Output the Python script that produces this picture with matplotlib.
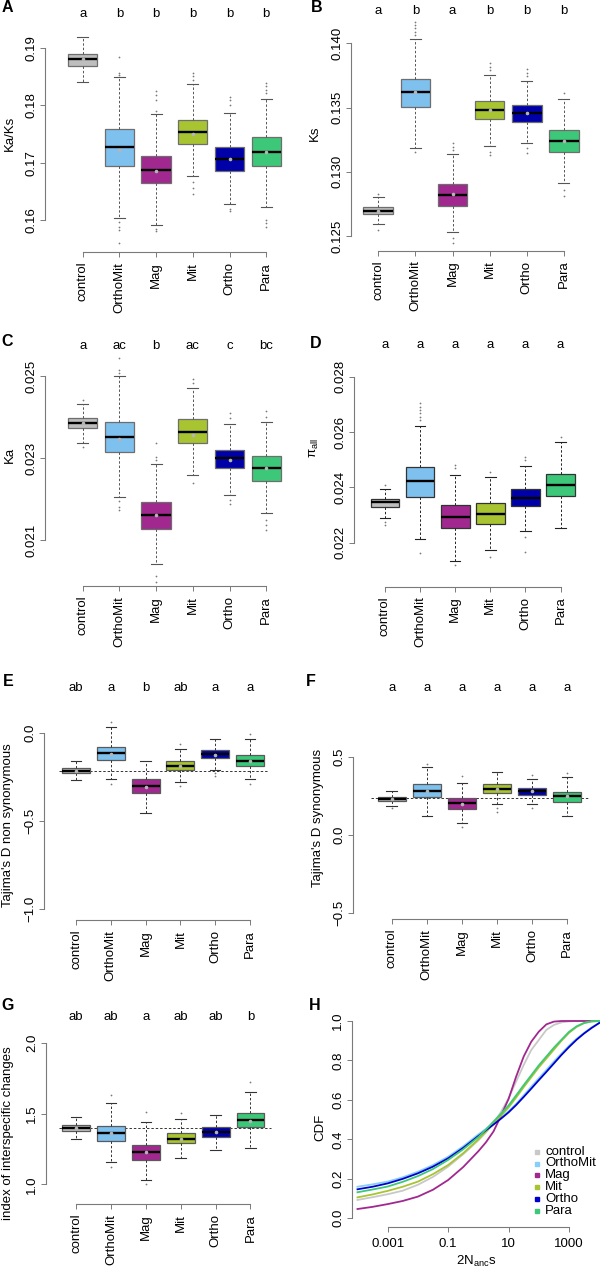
import matplotlib
matplotlib.use('Agg')
import matplotlib.pyplot as plt
from matplotlib.transforms import blended_transform_factory
import numpy as np

plt.rcParams['font.family'] = ['Liberation Sans', 'DejaVu Sans']
plt.rcParams['mathtext.fontset'] = 'custom'
plt.rcParams['mathtext.rm'] = 'Liberation Sans'
plt.rcParams['mathtext.it'] = 'Liberation Sans:italic'

# ---------------- data ----------------
groups = ['control', 'OrthoMit', 'Mag', 'Mit', 'Ortho', 'Para']
colors = ['#BEBEBE', '#7EC0EE', '#A0288E', '#A8C430', '#0000A8', '#3CC878']

# A: Ka/Ks
A_whislo = [0.1840, 0.1603, 0.1592, 0.1677, 0.1628, 0.1622]
A_q1 = [0.1869, 0.1695, 0.1664, 0.1733, 0.1686, 0.1694]
A_med = [0.1880, 0.1727, 0.1687, 0.1754, 0.1707, 0.1719]
A_q3 = [0.1890, 0.1758, 0.1712, 0.1775, 0.1728, 0.1745]
A_whishi = [0.1920, 0.1850, 0.1785, 0.1837, 0.1786, 0.1811]
A_mean = [0.1880, 0.1722, 0.1685, 0.1750, 0.1707, 0.1718]
A_fliers = [[], [0.1885, 0.1857, 0.1853, 0.1597, 0.1588, 0.1582, 0.1560],
            [0.1825, 0.1818, 0.1810, 0.1790, 0.1585, 0.1580],
            [0.1857, 0.1852, 0.1845, 0.1667, 0.1655, 0.1645],
            [0.1815, 0.1810, 0.1801, 0.1620, 0.1616],
            [0.1839, 0.1833, 0.1827, 0.1821, 0.1600, 0.1594, 0.1588]]
A_letters = ['a', 'b', 'b', 'b', 'b', 'b']

# B: Ks
B_whislo = [0.12596, 0.13188, 0.12529, 0.13201, 0.13227, 0.12915]
B_q1 = [0.12671, 0.13507, 0.12736, 0.13408, 0.13385, 0.13151]
B_med = [0.12697, 0.13619, 0.12819, 0.13481, 0.13455, 0.13237]
B_q3 = [0.12728, 0.13720, 0.12902, 0.13551, 0.13520, 0.13325]
B_whishi = [0.12804, 0.14031, 0.13136, 0.13753, 0.13707, 0.13564]
B_mean = [0.12697, 0.13619, 0.12830, 0.13481, 0.13455, 0.13237]
B_fliers = [[0.12827, 0.12547],
            [0.14169, 0.14143, 0.14117, 0.14091, 0.14065, 0.13157],
            [0.13221, 0.13196, 0.13170, 0.12482, 0.12448],
            [0.13844, 0.13818, 0.13792, 0.13157, 0.13131],
            [0.13798, 0.13772, 0.13746, 0.13183, 0.13149],
            [0.13610, 0.12858, 0.12811]]
B_letters = ['a', 'b', 'a', 'b', 'b', 'b']

# C: Ka
C_whislo = [0.02336, 0.02204, 0.02042, 0.02259, 0.02209, 0.02167]
C_q1 = [0.02372, 0.02314, 0.02128, 0.02337, 0.02275, 0.02243]
C_med = [0.02386, 0.02350, 0.02160, 0.02364, 0.02299, 0.02275]
C_q3 = [0.02397, 0.02387, 0.02192, 0.02394, 0.02320, 0.02305]
C_whishi = [0.02431, 0.02499, 0.02285, 0.02470, 0.02382, 0.02387]
C_mean = [0.02386, 0.02346, 0.02160, 0.02356, 0.02295, 0.02275]
C_fliers = [[0.02442, 0.02328],
            [0.02543, 0.02515, 0.02508, 0.02194, 0.02181, 0.02173],
            [0.02337, 0.02303, 0.02295, 0.02011, 0.01998],
            [0.02492, 0.02482, 0.02240],
            [0.02409, 0.02397, 0.02198, 0.02189],
            [0.02415, 0.02401, 0.02149, 0.02137, 0.02124]]
C_letters = ['a', 'ac', 'b', 'ac', 'c', 'bc']

# D: pi_all
D_whislo = [0.02290, 0.02215, 0.02134, 0.02172, 0.02242, 0.02252]
D_q1 = [0.02330, 0.02366, 0.02253, 0.02269, 0.02333, 0.02368]
D_med = [0.02346, 0.02422, 0.02294, 0.02305, 0.02361, 0.02410]
D_q3 = [0.02358, 0.02475, 0.02336, 0.02343, 0.02393, 0.02448]
D_whishi = [0.02395, 0.02623, 0.02446, 0.02436, 0.02478, 0.02563]
D_mean = [0.02346, 0.02422, 0.02294, 0.02305, 0.02361, 0.02410]
D_fliers = [[0.02408, 0.02276, 0.02264],
            [0.02704, 0.02692, 0.02680, 0.02668, 0.02655, 0.02643, 0.02161],
            [0.02481, 0.02469, 0.02119],
            [0.02457, 0.02149],
            [0.02511, 0.02499, 0.02219, 0.02168],
            [0.02583]]
D_letters = ['a', 'a', 'a', 'a', 'a', 'a']

# E: Tajima's D non synonymous
E_whislo = [-0.268, -0.260, -0.453, -0.277, -0.211, -0.264]
E_q1 = [-0.230, -0.155, -0.343, -0.211, -0.145, -0.187]
E_med = [-0.217, -0.117, -0.302, -0.187, -0.123, -0.159]
E_q3 = [-0.202, -0.083, -0.264, -0.162, -0.100, -0.126]
E_whishi = [-0.160, 0.030, -0.159, -0.093, -0.036, -0.036]
E_mean = [-0.217, -0.123, -0.306, -0.187, -0.126, -0.160]
E_fliers = [[], [0.062, -0.293], [], [-0.064, -0.302], [-0.230, -0.245], [-0.009, -0.293]]
E_letters = ['ab', 'a', 'b', 'ab', 'a', 'a']
E_ref = -0.217

# F: Tajima's D synonymous
F_whislo = [0.185, 0.121, 0.075, 0.198, 0.198, 0.121]
F_q1 = [0.219, 0.240, 0.168, 0.266, 0.255, 0.213]
F_med = [0.232, 0.283, 0.202, 0.296, 0.279, 0.249]
F_q3 = [0.245, 0.323, 0.238, 0.323, 0.302, 0.277]
F_whishi = [0.283, 0.432, 0.334, 0.400, 0.357, 0.368]
F_mean = [0.232, 0.283, 0.200, 0.296, 0.279, 0.249]
F_fliers = [[0.175], [0.451], [0.377, 0.053], [0.170, 0.149], [0.383, 0.170], [0.398]]
F_letters = ['a', 'a', 'a', 'a', 'a', 'a']
F_ref = 0.234

# G: index of interspecific changes
G_whislo = [1.318, 1.160, 1.031, 1.184, 1.242, 1.254]
G_q1 = [1.377, 1.308, 1.172, 1.289, 1.337, 1.402]
G_med = [1.400, 1.360, 1.226, 1.322, 1.367, 1.452]
G_q3 = [1.419, 1.414, 1.278, 1.360, 1.402, 1.501]
G_whishi = [1.478, 1.577, 1.438, 1.461, 1.489, 1.649]
G_mean = [1.400, 1.360, 1.226, 1.322, 1.367, 1.450]
G_fliers = [[], [1.631, 1.125], [1.513, 1.000], [1.506], [], [1.725]]
G_letters = ['ab', 'ab', 'a', 'ab', 'ab', 'b']
G_ref = 1.40

# H: CDF of 2N_anc s (read at these log10 positions)
H_log10s = [-4, -3.5, -3, -2.5, -2, -1.5, -1, -0.5, 0, 0.25, 0.5, 0.75, 1, 1.25, 1.5,
            1.75, 2, 2.25, 2.5, 2.75, 3, 3.25, 3.5, 3.75, 4]
H_control = [0.093, 0.107, 0.122, 0.140, 0.170, 0.210, 0.262, 0.325, 0.395, 0.435, 0.480,
             0.540, 0.608, 0.693, 0.777, 0.853, 0.904, 0.955, 0.980, 0.993, 0.998, 1.0, 1.0, 1.0, 1.0]
H_OrthoMit = [0.160, 0.172, 0.186, 0.208, 0.236, 0.270, 0.312, 0.365, 0.425, 0.453, 0.481,
              0.511, 0.543, 0.580, 0.623, 0.667, 0.710, 0.752, 0.795, 0.835, 0.875, 0.910, 0.940, 0.968, 0.990]
H_Mag = [0.047, 0.058, 0.072, 0.088, 0.110, 0.145, 0.194, 0.260, 0.340, 0.385, 0.440,
         0.520, 0.605, 0.718, 0.820, 0.895, 0.946, 0.983, 0.997, 1.0, 1.0, 1.0, 1.0, 1.0, 1.0]
H_Mit = [0.106, 0.121, 0.139, 0.160, 0.186, 0.224, 0.270, 0.330, 0.400, 0.440, 0.480,
         0.520, 0.562, 0.612, 0.665, 0.715, 0.765, 0.810, 0.855, 0.900, 0.940, 0.970, 0.990, 0.998, 1.0]
H_Ortho = [0.147, 0.160, 0.177, 0.200, 0.228, 0.262, 0.304, 0.357, 0.417, 0.446, 0.475,
           0.505, 0.537, 0.574, 0.615, 0.657, 0.700, 0.742, 0.785, 0.828, 0.868, 0.905, 0.937, 0.965, 0.990]
H_Para = [0.132, 0.146, 0.161, 0.185, 0.214, 0.250, 0.296, 0.350, 0.412, 0.450, 0.490,
          0.530, 0.572, 0.623, 0.675, 0.725, 0.775, 0.820, 0.865, 0.905, 0.945, 0.973, 0.990, 0.998, 1.0]

# ---------------- figure ----------------
W, H = 600, 1269
fig = plt.figure(figsize=(W / 100, H / 100), dpi=100)
FS = 9.5
AXC = '#7a7a7a'


def pix_axes(left, right, top, bottom):
    return fig.add_axes([left / W, 1 - bottom / H, (right - left) / W, (bottom - top) / H])


def box_panel(lay, whislo, q1, med, q3, whishi, mean, fliers, letters,
              yticks, yticklabels, ylabel, show_mean=True, ref=None, ref_span=(0.5, 6.5),
              edge='#6e6e6e', wcol='#555555', bw=0.8):
    L, R, T, B = lay['box']
    x1, sp = lay['x1'], lay['sp']
    (yv1, yp1), (yv2, yp2) = lay['ymap']
    ax = pix_axes(L, R, T, B)
    ax.set_xlim(1 + (L - x1) / sp, 1 + (R - x1) / sp)
    slope = (yv2 - yv1) / (yp2 - yp1)
    ax.set_ylim(yv1 + (B - yp1) * slope, yv1 + (T - yp1) * slope)
    stats = []
    for i in range(len(groups)):
        stats.append(dict(med=med[i], q1=q1[i], q3=q3[i], whislo=whislo[i],
                          whishi=whishi[i], fliers=fliers[i], mean=mean[i]))
    if ref is not None:
        ax.hlines(ref, ref_span[0], ref_span[1], colors='#333333', linestyles=(0, (2.5, 2)),
                  linewidth=0.7, zorder=1)
    res = ax.bxp(stats, positions=range(1, len(groups) + 1), widths=bw, capwidths=0.3,
                 patch_artist=True, showmeans=show_mean, showfliers=True,
                 boxprops=dict(edgecolor=edge, linewidth=0.9),
                 whiskerprops=dict(color=wcol, linestyle=(0, (2.5, 2)), linewidth=0.7),
                 capprops=dict(color=wcol, linewidth=0.8),
                 medianprops=dict(color='black', linewidth=1.7),
                 flierprops=dict(marker='o', markersize=0.9, markerfacecolor='#777777',
                                 markeredgecolor='#777777', markeredgewidth=0.3, linestyle='none'),
                 meanprops=dict(marker='o', markersize=1.6, markerfacecolor='#b5b5b5',
                                markeredgecolor='#b5b5b5'))
    for patch, c in zip(res['boxes'], colors):
        patch.set_facecolor(c)
    for s in ['top', 'right']:
        ax.spines[s].set_visible(False)
    for s in ['left', 'bottom']:
        ax.spines[s].set_color(AXC)
        ax.spines[s].set_linewidth(0.8)
    ax.spines['left'].set_bounds(yticks[0], yticks[-1])
    ax.spines['bottom'].set_bounds(1, len(groups))
    ax.set_yticks(yticks)
    ax.set_yticklabels(yticklabels, rotation=90, va='center')
    ax.set_xticks(range(1, len(groups) + 1))
    ax.set_xticklabels(groups, rotation=90)
    ax.tick_params(axis='both', length=3.5, width=0.7, color=AXC, labelsize=FS)
    ax.tick_params(axis='y', pad=2)
    ax.tick_params(axis='x', pad=3.6)
    ax.patch.set_visible(False)
    trans = blended_transform_factory(ax.transData, fig.transFigure)
    for i, l in enumerate(letters):
        ax.text(i + 1, 1 - lay['ly'] / H, l, ha='center', va='center', fontsize=FS, transform=trans)
    fig.text(lay['lab'][0] / W, 1 - lay['lab'][1] / H, lay['name'], fontweight='bold',
             fontsize=11.5, ha='center', va='center')
    fig.text(lay['yl'][0] / W, 1 - lay['yl'][1] / H, ylabel, rotation=90, ha='center',
             va='center', fontsize=FS)
    return ax


layA = dict(box=(45, 290, 25, 252), x1=82.7, sp=36.7, ymap=((0.16, 220), (0.19, 48)),
            ly=14, lab=(7, 8), yl=(10, 133), name='A')
layB = dict(box=(351, 595, 15, 250.7), x1=378.3, sp=37.1, ymap=((0.125, 236), (0.140, 43.3)),
            ly=11, lab=(317, 7), yl=(315, 133), name='B')
layC = dict(box=(45, 290, 350, 586), x1=82.7, sp=36.7, ymap=((0.021, 540), (0.025, 376)),
            ly=346, lab=(7, 342), yl=(10, 455), name='C')
layD = dict(box=(354.3, 590, 360, 586.7), x1=385, sp=35.1, ymap=((0.022, 542.7), (0.028, 376.7)),
            ly=345, lab=(316, 343), yl=(314, 448), name='D')
layE = dict(box=(44.3, 275, 700, 920), x1=76, sp=34.8, ymap=((0.0, 732.7), (-1.0, 909.3)),
            ly=688, lab=(8, 682), yl=(8, 825), name='E')
layF = dict(box=(353.3, 592, 700, 919), x1=391.7, sp=35.1, ymap=((0.5, 756.7), (-0.5, 913.3)),
            ly=688, lab=(311, 682), yl=(318, 818), name='F')
layG = dict(box=(46, 280, 1030, 1204), x1=76, sp=34.9, ymap=((2.0, 1042.7), (1.0, 1184.3)),
            ly=1017, lab=(8, 1006), yl=(8, 1133), name='G')

box_panel(layA, A_whislo, A_q1, A_med, A_q3, A_whishi, A_mean, A_fliers, A_letters,
          [0.16, 0.17, 0.18, 0.19], ['0.16', '0.17', '0.18', '0.19'], 'Ka/Ks')
box_panel(layB, B_whislo, B_q1, B_med, B_q3, B_whishi, B_mean, B_fliers, B_letters,
          [0.125, 0.130, 0.135, 0.140], ['0.125', '0.130', '0.135', '0.140'], 'Ks')
box_panel(layC, C_whislo, C_q1, C_med, C_q3, C_whishi, C_mean, C_fliers, C_letters,
          [0.021, 0.023, 0.025], ['0.021', '0.023', '0.025'], 'Ka')
box_panel(layD, D_whislo, D_q1, D_med, D_q3, D_whishi, D_mean, D_fliers, D_letters,
          [0.022, 0.024, 0.026, 0.028], ['0.022', '0.024', '0.026', '0.028'],
          '\u03c0$_{\\mathrm{all}}$', show_mean=False, edge='#333333', wcol='#222222', bw=0.82)
box_panel(layE, E_whislo, E_q1, E_med, E_q3, E_whishi, E_mean, E_fliers, E_letters,
          [-1.0, -0.5, 0.0], ['\u22121.0', '\u22120.5', '0.0'], "Tajima's D non synonymous",
          ref=E_ref, ref_span=(0.5, 6.55), edge='#5a5a5a', wcol='#333333')
box_panel(layF, F_whislo, F_q1, F_med, F_q3, F_whishi, F_mean, F_fliers, F_letters,
          [-0.5, 0.0, 0.5], ['\u22120.5', '0.0', '0.5'], "Tajima's D synonymous",
          ref=F_ref, ref_span=(0.4, 6.6), edge='#5a5a5a', wcol='#333333')
box_panel(layG, G_whislo, G_q1, G_med, G_q3, G_whishi, G_mean, G_fliers, G_letters,
          [1.0, 1.5, 2.0], ['1.0', '1.5', '2.0'], 'index of interspecific changes',
          ref=G_ref, ref_span=(0.5, 6.6), edge='#5a5a5a', wcol='#333333')

# ---------------- panel H ----------------
L, R, T, B = 351.7, 600, 1015, 1226.7
axh = pix_axes(L, R, T, B)
axh.set_xscale('log')
d0, dpx = 387.7, 30.22   # pixel of 10^-3 and pixels per decade
axh.set_xlim(10 ** (-3 + (L - d0) / dpx), 10 ** (-3 + (R - d0) / dpx))
y0p, y1p = 1218.3, 1021.0
axh.set_ylim((y0p - B) / (y0p - y1p), (y0p - T) / (y0p - y1p))
s_vals = 10.0 ** np.array(H_log10s)
H_curves = [H_control, H_OrthoMit, H_Mag, H_Mit, H_Ortho, H_Para]
curve_cols = ['#C8C8C8', '#87CEFA', '#A0288E', '#A8C430', '#0000CD', '#3CC878']
for ys, c in zip(H_curves, curve_cols):
    axh.plot(s_vals, ys, color=c, linewidth=1.3, solid_joinstyle='round')
for s in ['top', 'right']:
    axh.spines[s].set_visible(False)
for s in ['left', 'bottom']:
    axh.spines[s].set_color(AXC)
    axh.spines[s].set_linewidth(0.8)
axh.spines['left'].set_bounds(0, 1)
axh.spines['bottom'].set_bounds(1e-3, 1e3)
axh.set_yticks([0, 0.2, 0.4, 0.6, 0.8, 1.0])
axh.set_yticklabels(['0.0', '0.2', '0.4', '0.6', '0.8', '1.0'], rotation=90, va='center')
axh.set_xticks([1e-3, 1e-1, 1e1, 1e3])
axh.set_xticklabels(['0.001', '0.1', '10', '1000'])
axh.minorticks_off()
axh.tick_params(axis='both', length=3.5, width=0.7, color=AXC, labelsize=FS)
axh.tick_params(axis='y', pad=2)
axh.tick_params(axis='x', pad=4.6)
axh.patch.set_visible(False)
fig.text(315 / W, 1 - 1006 / H, 'H', fontweight='bold', fontsize=11.5, ha='center', va='center')
fig.text(320 / W, 1 - 1127 / H, 'CDF', rotation=90, ha='center', va='center', fontsize=FS)
fig.text(476 / W, 1 - 1261 / H, r'2N$_{\mathrm{anc}}$s', ha='center', va='center', fontsize=FS)

# legend
leg_top, leg_step = 1151.7, 11.8
for i, (name, c) in enumerate(zip(groups, curve_cols)):
    yy = 1 - (leg_top + i * leg_step) / H
    fig.lines.append(plt.Line2D([536.7 / W], [yy], marker='s', markersize=2.2, color=c,
                                linestyle='none', transform=fig.transFigure))
    fig.text(545 / W, yy, name, ha='left', va='center', fontsize=FS)

fig.savefig('out.png', dpi=100, facecolor='white')
